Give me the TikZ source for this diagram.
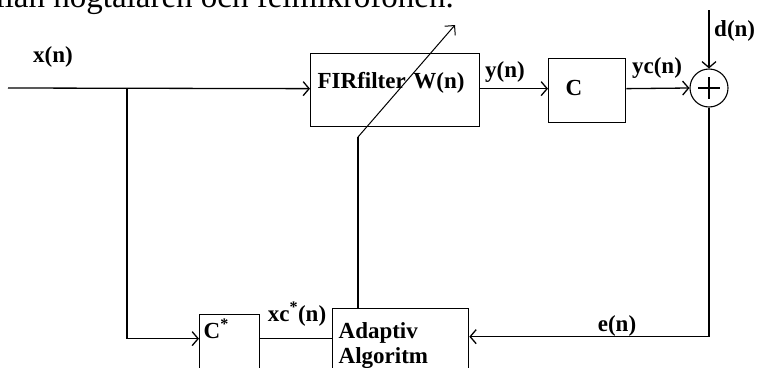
\documentclass[tikz,border=0pt]{standalone}
\usepackage{fontspec}
\setmainfont{Liberation Serif}
\usetikzlibrary{arrows.meta,positioning,calc}
\tikzset{
  blockbox/.style={draw, line width=1.3pt, inner ysep=0pt, align=left, font=\fontsize{23}{25}\selectfont\bfseries},
  sumnode/.style={draw, circle, line width=1.1pt, minimum size=38pt, inner sep=0pt},
  sig/.style={line width=1.3pt},
  arc/.style={sig, -{Straight Barb[length=6pt, width=14pt]}},
  tunearc/.style={line width=1pt, -{Straight Barb[length=7pt, width=14pt]}},
  siglabel/.style={inner sep=0pt, font=\fontsize{23}{25}\selectfont\bfseries}
}

\begin{document}
\begin{tikzpicture}[x=1pt, y=-1pt]
  \useasboundingbox (0,0) rectangle (762,367);
  \clip (0,0) rectangle (762,367);
  \node[anchor=base east, inner sep=0pt, font=\fontsize{33}{37}\selectfont] (caption) at (454,7) {mellan högtalaren och felmikrofonen.};

  % blocks
  \node[blockbox, anchor=north west, inner xsep=7pt, text width=155pt, text height=35pt, text depth=38pt] (fir) at (310,53) {FIRfilter W(n)};
  \node[blockbox, anchor=north west, inner xsep=17pt, text width=43pt, text height=37pt, text depth=27pt] (cblk) at (548,58) {C};
  \node[sumnode] (sum) at (709,88) {};
  \draw[sig] ($(sum)+(-11,0)$) -- ($(sum)+(11,0)$);
  \draw[sig] ($(sum)+(0,-11)$) -- ($(sum)+(0,11)$);
  \node[blockbox, anchor=north west, inner xsep=4pt, text width=52pt, text height=24pt, text depth=40pt] (cstar) at (199,314) {C\textsuperscript{*}};
  \node[blockbox, anchor=north west, inner xsep=6pt, text width=124pt, text height=30pt, text depth=50pt] (adapt) at (332,308) {Adaptiv\\Algoritm};

  % labels
  \node[siglabel] (xlab) at (53,57) {x(n)};
  \node[siglabel] (ylab) at (505,72) {y(n)};
  \node[siglabel] (yclab) at (657,68) {yc(n)};
  \node[siglabel, anchor=west] (dlab) at (714,31) {d(n)};
  \node[siglabel] (elab) at (617,326) {e(n)};
  \node[siglabel] (xclab) at (297,314) {xc\textsuperscript{*}(n)};

  % connectors
  \coordinate (xin) at (8,88);
  \coordinate (split) at (127,88);
  \coordinate (dtop) at (709,10);
  \coordinate (tune) at (358,137);
  \coordinate (tunetip) at (455,25);
  \draw[arc] (xin) -- (fir.base west);
  \draw[arc] (split) |- (cstar.base west);
  \draw[sig] (cstar.base east) -- (adapt.base west);
  \draw[arc] (fir.base east) -- (fir.base east -| cblk.west);
  \draw[arc] (fir.base east -| cblk.east) -- (sum.west);
  \draw[arc] (dtop) -- (sum.north);
  \draw[arc] (sum.south) |- ([yshift=2pt]adapt.base east);
  \draw[sig] (adapt.north -| tune) -- (tune);
  \draw[tunearc] (tune) -- (tunetip);
\end{tikzpicture}
\end{document}
